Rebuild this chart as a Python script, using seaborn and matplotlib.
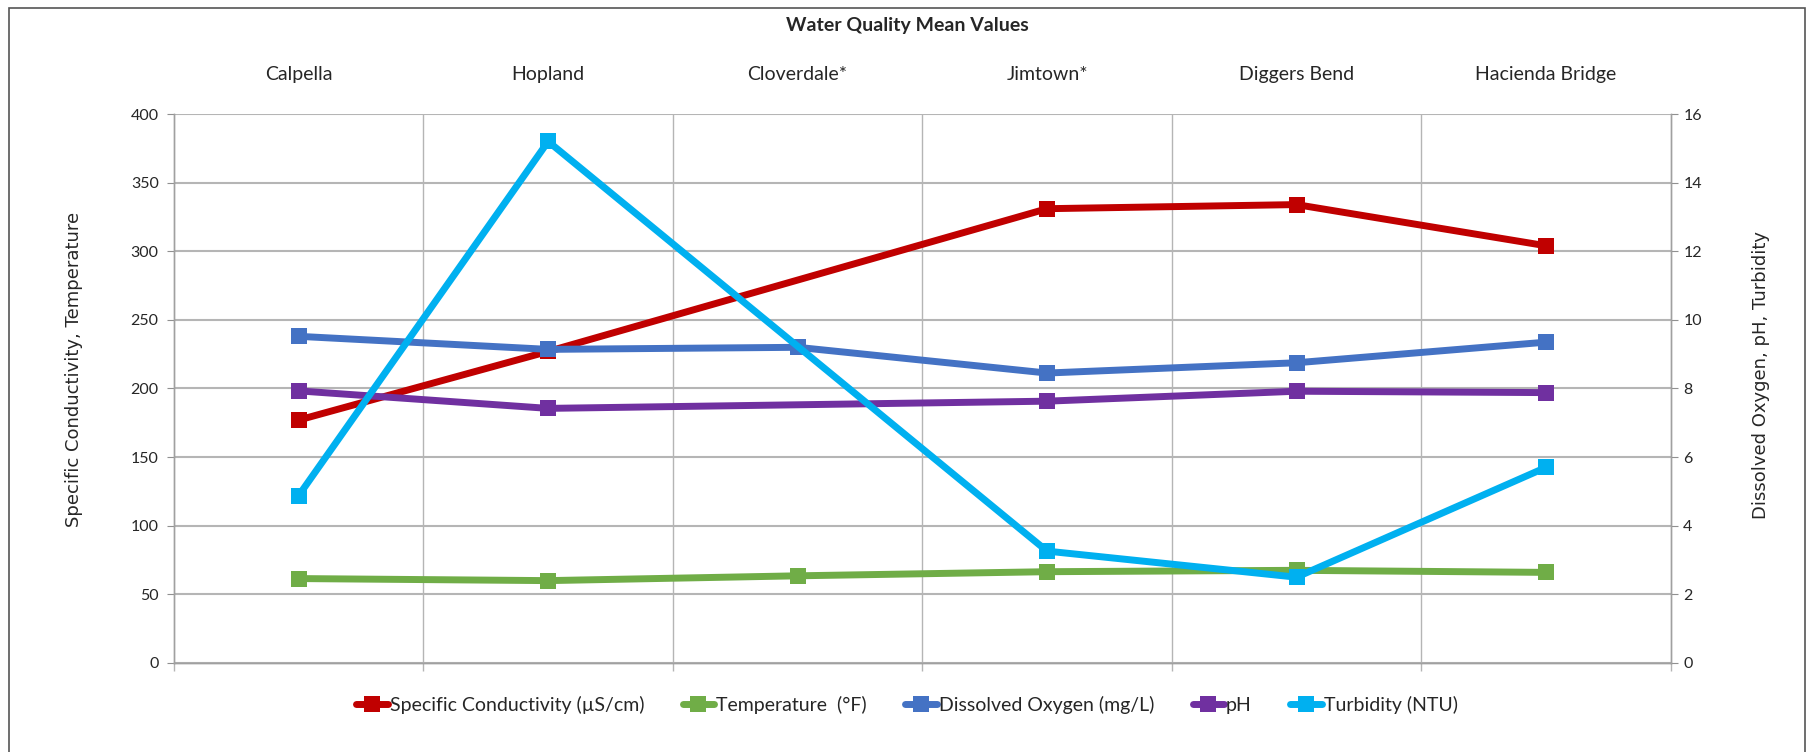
import numpy as np
import pandas as pd
import matplotlib.pyplot as plt
import matplotlib.patches as mpatches
from matplotlib.lines import Line2D
import seaborn as sns

# Site names and mean values (nan = no value at that site)
sites = ['Calpella', 'Hopland', 'Cloverdale*', 'Jimtown*', 'Diggers Bend', 'Hacienda Bridge']
spec_cond = [177, 227, np.nan, 331, 334, 304]
temperature = [61.5, 60, 63.5, 66.5, 67.5, 66]
diss_oxygen = [9.52, 9.14, 9.2, 8.45, 8.75, 9.35]
ph = [7.93, 7.42, np.nan, 7.63, 7.92, 7.88]
turbidity = [4.88, 15.2, np.nan, 3.26, 2.5, 5.7]

left_names = ['Specific Conductivity (µS/cm)', 'Temperature  (°F)']
right_names = ['Dissolved Oxygen (mg/L)', 'pH', 'Turbidity (NTU)']
colors = {'Specific Conductivity (µS/cm)': '#C00000',
          'Temperature  (°F)': '#70AD47',
          'Dissolved Oxygen (mg/L)': '#4472C4',
          'pH': '#7030A0',
          'Turbidity (NTU)': '#00B0F0'}

pos = list(range(len(sites)))
left_df = pd.DataFrame({'pos': pos * 2,
                        'value': spec_cond + temperature,
                        'param': [left_names[0]] * 6 + [left_names[1]] * 6}).dropna()
right_df = pd.DataFrame({'pos': pos * 3,
                         'value': diss_oxygen + ph + turbidity,
                         'param': [right_names[0]] * 6 + [right_names[1]] * 6 + [right_names[2]] * 6}).dropna()

sns.set_style('white')
plt.rcParams['font.family'] = ['Lato', 'DejaVu Sans']

fig = plt.figure(figsize=(18.14, 7.52), dpi=100)
ax = fig.add_axes([0.0959, 0.1184, 0.8251, 0.73])
ax2 = ax.twinx()

line_kw = dict(marker='s', markersize=12, markeredgewidth=0, linewidth=5, legend=False)
sns.lineplot(data=left_df, x='pos', y='value', hue='param', palette=colors,
             hue_order=left_names, ax=ax, **line_kw)
sns.lineplot(data=right_df, x='pos', y='value', hue='param', palette=colors,
             hue_order=right_names, ax=ax2, **line_kw)

grid_c = '#b5b5b5'
ax.set_xlim(-0.5, 5.5)
ax.set_ylim(0, 400)
ax2.set_ylim(0, 16)
ax.set_yticks(range(0, 401, 50))
ax2.set_yticks(range(0, 17, 2))
ax.grid(axis='y', color=grid_c, linewidth=1.5)
ax2.grid(False)

# vertical separators between sites
for xv in [0.5, 1.5, 2.5, 3.5, 4.5]:
    ax.axvline(xv, color=grid_c, linewidth=1, zorder=0)
ax.set_xticks([-0.5, 0.5, 1.5, 2.5, 3.5, 4.5, 5.5], minor=True)
ax.tick_params(axis='x', which='minor', bottom=True, top=False, length=6, color=grid_c, width=1)
ax.set_xticks(pos)
ax.set_xticklabels(sites)
ax.tick_params(axis='x', which='major', top=True, labeltop=True, bottom=False,
               labelbottom=False, length=0, pad=22, labelsize=14)

ax.tick_params(axis='y', which='major', left=True, length=5, color='#909090', labelsize=11.5, pad=6)
ax2.tick_params(axis='y', which='major', right=True, length=5, color='#909090', labelsize=11.5, pad=4)

for a in (ax, ax2):
    a.spines['top'].set_visible(False)
    for side in ['left', 'right', 'bottom']:
        a.spines[side].set_color('#a0a0a0')
        a.spines[side].set_linewidth(1)

ax.set_xlabel('')
ax.set_ylabel('Specific Conductivity, Temperature', fontsize=13, family='DejaVu Sans')
ax2.set_ylabel('Dissolved Oxygen, pH, Turbidity', fontsize=13, family='DejaVu Sans', rotation=90)
ax.yaxis.set_label_coords(-0.061, 0.534)
ax2.yaxis.set_label_coords(1.054, 0.525)

fig.text(0.5, 1 - 25 / 752, 'Water Quality Mean Values', ha='center', va='center',
         fontsize=14, fontweight='bold')

handles = [Line2D([], [], color=colors[n], marker='s', markersize=11, markeredgewidth=0, linewidth=5)
           for n in left_names + right_names]
fig.legend(handles, left_names + right_names, loc='center', bbox_to_anchor=(0.5, 1 - 705 / 752),
           ncol=5, frameon=False, fontsize=14, handlelength=1.6, handletextpad=0.1, columnspacing=2.0)

# outer chart frame
fig.patches.append(mpatches.Rectangle((9 / 1814, -0.02), 1796 / 1814, 1.02 - 8 / 752,
                                      transform=fig.transFigure, fill=False,
                                      edgecolor='#555555', linewidth=1.2))

fig.savefig('out.png', dpi=100)
